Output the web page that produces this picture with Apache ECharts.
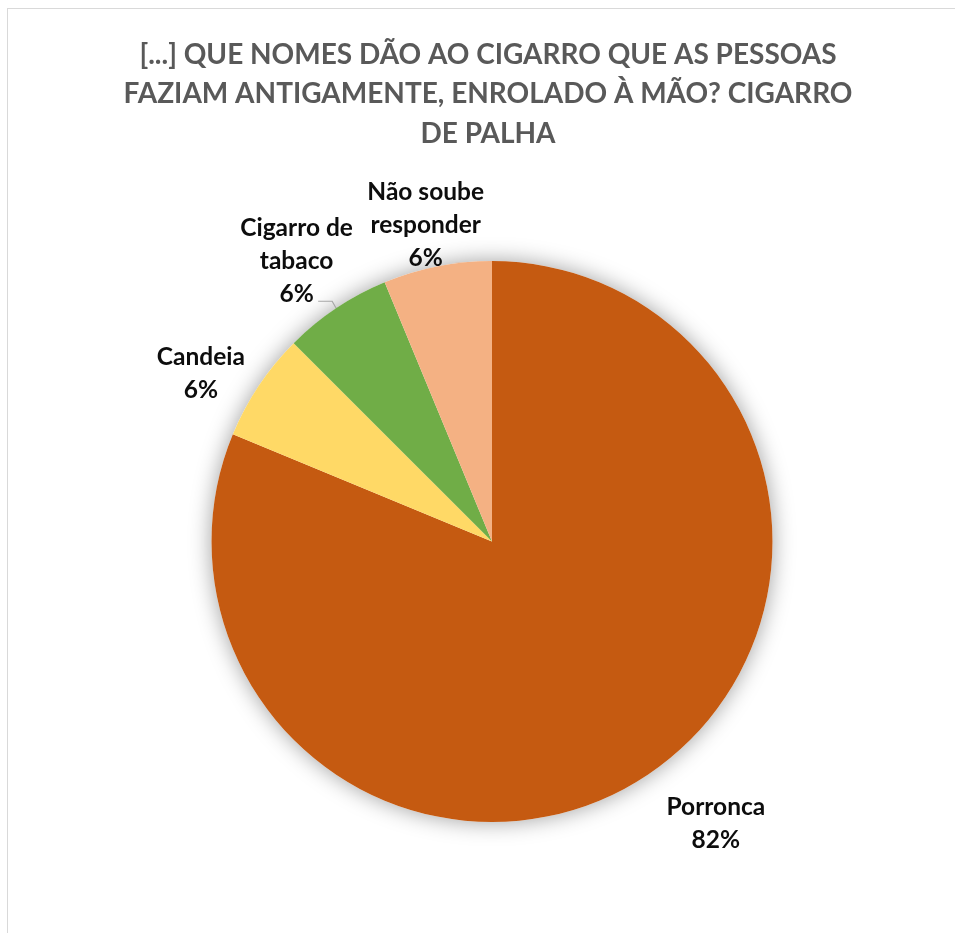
<!DOCTYPE html>
<html>
<head>
<meta charset="utf-8">
<script src="https://cdn.jsdelivr.net/npm/echarts@6/dist/echarts.min.js"></script>
<style>
  html, body { margin: 0; padding: 0; background: #ffffff; }
  #frame { position: absolute; left: 7px; top: 8px; width: 960px; height: 940px; border: 1.5px solid #d9d9d9; box-sizing: border-box; }
  #chart { position: absolute; left: 0; top: 0; width: 955px; height: 933px; }
</style>
</head>
<body>
<div id="frame"></div>
<div id="chart"></div>
<script>
// ---- data ----
const categories = ['Porronca', 'Candeia', 'Cigarro de\ntabaco', 'Não soube\nresponder'];
const values = [81.25, 6.25, 6.25, 6.25];
const percentLabels = ['82%', '6%', '6%', '6%'];
const colors = ['#C55A11', '#FFD966', '#70AD47', '#F4B183'];

// ---- layout ----
const CX = 492, CY = 541.5, R = 280.5;
// label placement (polar, relative to pie center): angle offset from slice middle (deg), radius (px)
const labelAngleOffset = [-4.7, -3.8, -1.1, -0.6];
const labelRadius = [360, 336, 342, 323];

const total = values.reduce((a, b) => a + b, 0);
const midAngles = [];
let acc = 0;
values.forEach(v => { midAngles.push((acc + v / 2) / total * 360); acc += v; });

const chart = echarts.init(document.getElementById('chart'), null, { renderer: 'canvas' });
const option = {
  animation: false,
  title: {
    text: '[...] QUE NOMES DÃO AO CIGARRO QUE AS PESSOAS\nFAZIAM ANTIGAMENTE, ENROLADO À MÃO? CIGARRO\nDE PALHA',
    left: 483,
    top: 30,
    textAlign: 'center',
    textStyle: {
      fontFamily: 'Lato',
      fontWeight: 'bold',
      fontSize: 28,
      lineHeight: 39.5,
      color: '#595959'
    }
  },
  series: [
    {
      type: 'pie',
      silent: true,
      center: [CX, CY],
      radius: [0, R],
      startAngle: 90,
      clockwise: true,
      label: { show: false },
      labelLine: { show: false },
      itemStyle: { color: '#ffffff', shadowBlur: 22, shadowColor: 'rgba(0,0,0,0.38)' },
      data: [{ value: total, name: 'all' }],
      z: 1
    },
    {
      type: 'pie',
      center: [CX, CY],
      radius: [0, R],
      startAngle: 90,
      clockwise: true,
      z: 2,
      data: categories.map((c, i) => ({
        name: c,
        value: values[i],
        itemStyle: { color: colors[i] },
        labelLine: { show: i === 2 }
      })),
      label: {
        show: true,
        position: 'outside',
        formatter: p => p.name + '\n' + percentLabels[p.dataIndex],
        fontFamily: 'Lato',
        fontWeight: 'bold',
        fontSize: 24.5,
        lineHeight: 33,
        color: '#0d0d0d',
        align: 'center'
      },
      labelLine: {
        show: false,
        length: 8,
        length2: 10,
        lineStyle: { color: '#a6a6a6', width: 1.2 }
      },
      labelLayout: function (params) {
        const i = params.dataIndex;
        const a = (midAngles[i] + labelAngleOffset[i]) * Math.PI / 180;
        const x = CX + labelRadius[i] * Math.sin(a);
        const y = CY - labelRadius[i] * Math.cos(a);
        const res = { x: x, y: y, align: 'center', verticalAlign: 'middle' };
        if (i === 2) {
          const m = midAngles[i] * Math.PI / 180;
          const p0 = [CX + R * Math.sin(m), CY - R * Math.cos(m)];
          const p1 = [p0[0] - 4, p0[1] - 7];
          const p2 = [p0[0] - 18, p0[1] - 7];
          res.labelLinePoints = [p0, p1, p2];
        }
        return res;
      }
    }
  ]
};
chart.setOption(option);
</script>
</body>
</html>
